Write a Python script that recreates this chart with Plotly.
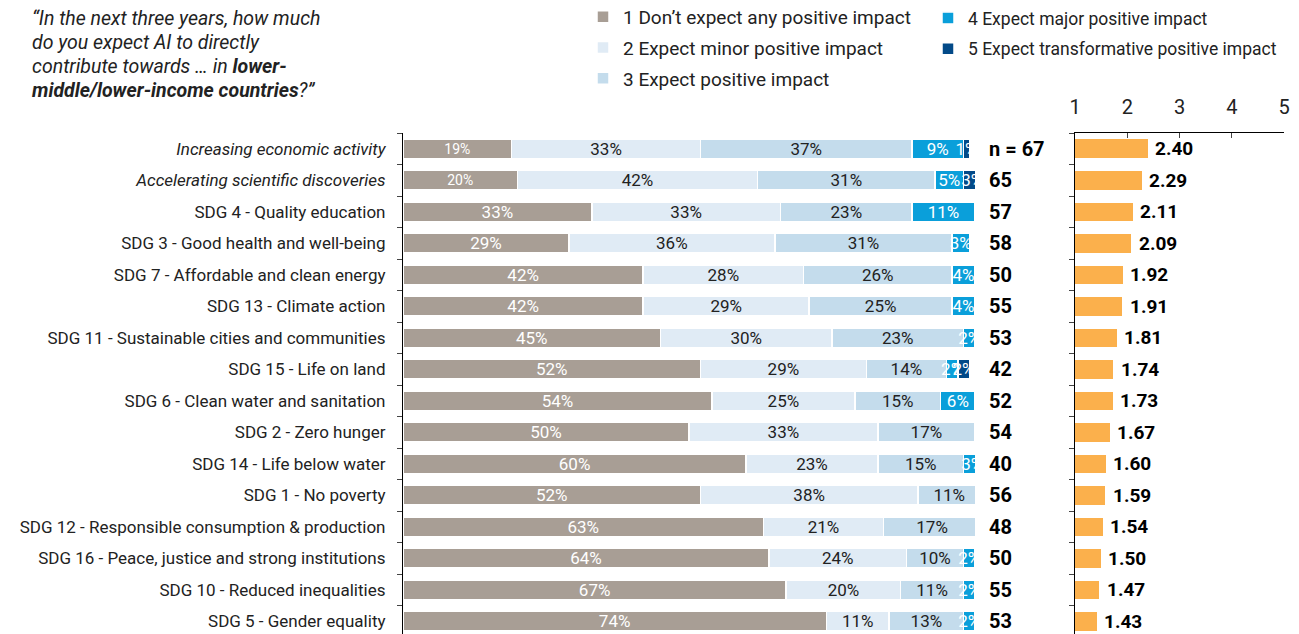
import plotly.graph_objects as go

# the page puts the figure 8px in from the window's top-left corner
OFF = 8
W, H = 1299 - OFF, 634 - OFF

categories = [
    "<i>Increasing economic activity</i>",
    "<i>Accelerating scientific discoveries</i>",
    "SDG 4 - Quality education",
    "SDG 3 - Good health and well-being",
    "SDG 7 - Affordable and clean energy",
    "SDG 13 - Climate action",
    "SDG 11 - Sustainable cities and communities",
    "SDG 15 - Life on land",
    "SDG 6 - Clean water and sanitation",
    "SDG 2 - Zero hunger",
    "SDG 14 - Life below water",
    "SDG 1 - No poverty",
    "SDG 12 - Responsible consumption & production",
    "SDG 16 - Peace, justice and strong institutions",
    "SDG 10 - Reduced inequalities",
    "SDG 5 - Gender equality",
]

no_impact = [19, 20, 33, 29, 42, 42, 45, 52, 54, 50, 60, 52, 63, 64, 67, 74]
minor = [33, 42, 33, 36, 28, 29, 30, 29, 25, 33, 23, 38, 21, 24, 20, 11]
positive = [37, 31, 23, 31, 26, 25, 23, 14, 15, 17, 15, 11, 17, 10, 11, 13]
major = [9, 5, 11, 3, 4, 4, 2, 2, 6, 0, 3, 0, 0, 2, 2, 2]
transformative = [1, 3, 0, 0, 0, 0, 0, 2, 0, 0, 0, 0, 0, 0, 0, 0]

n_resp = [67, 65, 57, 58, 50, 55, 53, 42, 52, 54, 40, 56, 48, 50, 55, 53]
means = [2.40, 2.29, 2.11, 2.09, 1.92, 1.91, 1.81, 1.74, 1.73, 1.67,
         1.60, 1.59, 1.54, 1.50, 1.47, 1.43]

title_lines = [
    "<i>“In the next three years, how much</i>",
    "<i>do you expect AI to directly</i>",
    "<i>contribute towards … in <b>lower-</b></i>",
    "<i><b>middle/lower-income countries</b>?”</i>",
]

series = [
    ("1 Don’t expect any positive impact", no_impact, "#a89e95", "white", "legend"),
    ("2 Expect minor positive impact", minor, "#e0ebf5", "#222222", "legend"),
    ("3 Expect positive impact", positive, "#c4dcec", "#222222", "legend"),
    ("4 Expect major positive impact", major, "#0a9fda", "white", "legend2"),
    ("5 Expect transformative positive impact", transformative, "#034a88", "white", "legend2"),
]

FONT = "Roboto"
# plot area in window pixels: left 403, right 1284, top 133
L, T = 403 - OFF, 133 - OFF
R = W - (1284 - OFF)
PW, PH = W - L - R, H - T


def px(x):
    return (x - OFF - L) / PW


def py(y):
    return 1 + (T - (y - OFF)) / PH


fig = go.Figure()

for i, (name, vals, color, tcolor, leg) in enumerate(series):
    sizes = [17] * len(vals)
    if i == 0:
        sizes[0] = sizes[1] = 14
    fig.add_trace(go.Bar(
        y=categories, x=vals, orientation="h", name=name,
        marker=dict(color=color, line=dict(color="white", width=1.5)),
        text=[f"{v}%" if v > 0 else "" for v in vals],
        textposition="inside", insidetextanchor="middle",
        constraintext="none", textangle=0,
        textfont=dict(color=tcolor, size=sizes, family=FONT),
        legend=leg, legendgroup=name,
        xaxis="x", yaxis="y", hoverinfo="skip",
    ))

fig.add_trace(go.Bar(
    y=categories, x=means, orientation="h", showlegend=False,
    marker=dict(color="#fbb04c", line=dict(color="white", width=1)),
    xaxis="x2", yaxis="y2", hoverinfo="skip",
))

# mean labels just right of each orange bar
for cat, m in zip(categories, means):
    fig.add_annotation(
        x=m, y=cat, xref="x2", yref="y2", xanchor="left", xshift=5,
        text=f"<b>{m:.2f}</b>", showarrow=False,
        font=dict(size=19, color="black", family=FONT),
    )

for k, (cat, n) in enumerate(zip(categories, n_resp)):
    fig.add_annotation(
        x=px(987), y=cat, xref="paper", yref="y", xanchor="left",
        text=f"<b>{'n = ' if k == 0 else ''}{n}</b>", showarrow=False,
        font=dict(size=20, color="black", family=FONT),
    )

for k, line in enumerate(title_lines):
    fig.add_annotation(
        x=px(30), y=py(18.5 + 24 * k), xref="paper", yref="paper",
        xanchor="left", yanchor="middle", align="left", showarrow=False,
        text=line, font=dict(size=19.5, color="#222222", family=FONT),
    )

y_range = [15.4, -0.5]

fig.update_layout(
    width=W, height=H, barmode="stack", bargap=0.38,
    plot_bgcolor="white", paper_bgcolor="white",
    margin=dict(l=L, r=R, t=T, b=0, autoexpand=False),
    font=dict(family=FONT, color="#222222"),
    xaxis=dict(domain=[0, px(975)], range=[0, 100], visible=False,
               fixedrange=True, automargin=False),
    yaxis=dict(range=y_range, type="category", showline=True,
               linecolor="black", linewidth=1.2, ticks="outside",
               tickson="boundaries", ticklen=5, tickcolor="#444",
               tickfont=dict(size=17, color="#222222", family=FONT),
               ticklabelstandoff=13, showgrid=False, automargin=False),
    xaxis2=dict(domain=[px(1075), 1], range=[1, 5], side="top",
                anchor="y2", showline=True, linecolor="black", linewidth=1.2,
                ticks="inside", ticklen=5, tickcolor="#444", showgrid=False,
                tickvals=[1, 2, 3, 4, 5], zeroline=False, automargin=False,
                ticklabelstandoff=10,
                tickfont=dict(size=20, color="#222222", family=FONT)),
    yaxis2=dict(range=y_range, type="category", anchor="x2",
                showline=True, linecolor="black", linewidth=1.2,
                ticks="outside", tickson="boundaries", ticklen=5,
                tickcolor="#444", showticklabels=False, showgrid=False,
                automargin=False),
    legend=dict(x=px(583), y=py(-2), xanchor="left", yanchor="top",
                traceorder="grouped", tracegroupgap=3,
                font=dict(size=19, color="#222222")),
    legend2=dict(x=px(928), y=py(0), xanchor="left", yanchor="top",
                 traceorder="grouped", tracegroupgap=5,
                 font=dict(size=17.5, color="#222222")),
)

fig.write_html("out.html")
